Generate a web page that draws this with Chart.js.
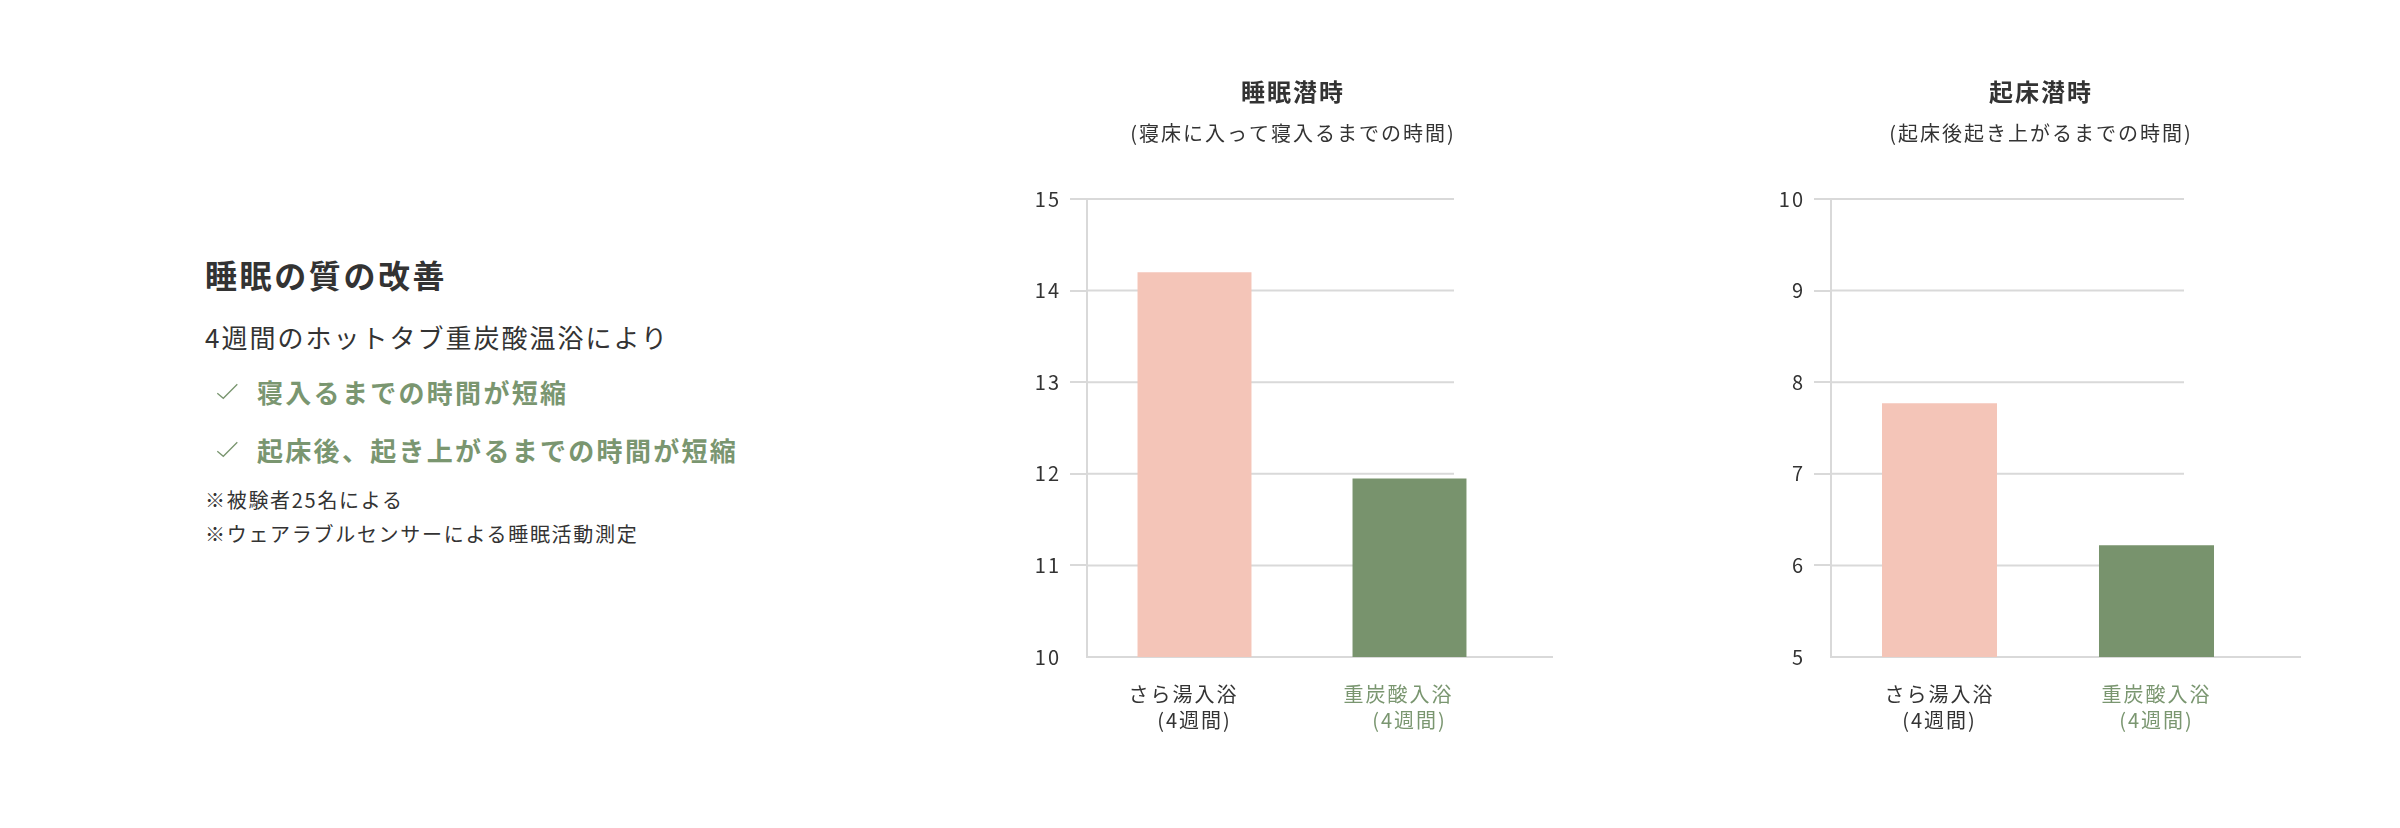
<!DOCTYPE html>
<html lang="ja">
<head>
<meta charset="utf-8">
<title>睡眠の質の改善</title>
<script src="https://cdn.jsdelivr.net/npm/chart.js@4.4.1/dist/chart.umd.min.js"></script>
<style>
  html, body {
    margin: 0;
    padding: 0;
    background: #fff;
  }
  body {
    width: 2400px;
    height: 828px;
    position: relative;
    overflow: hidden;
    font-family: "Noto Sans CJK JP", "Noto Sans", sans-serif;
    color: #333;
  }
  .txt {
    position: absolute;
    left: 205px;
    white-space: nowrap;
  }
  .heading { top: 254px; font-size: 32px; line-height: 40px; font-weight: 700; letter-spacing: 2.6px; }
  .lead { top: 320px; font-size: 26px; line-height: 34px; letter-spacing: 2px; }
  .point { left: 257px; font-size: 26px; line-height: 34px; font-weight: 700; letter-spacing: 2.3px; color: #7a9670; }
  .check { position: absolute; left: 216px; }
  .p1 { top: 375px; }
  .p2 { top: 433px; }
  .c1 { top: 383px; }
  .c2 { top: 441px; }
  .note { font-size: 20px; line-height: 28px; letter-spacing: 1.7px; }
  .n1 { top: 486px; }
  .n2 { top: 520px; }
  canvas { position: absolute; }
</style>
</head>
<body>

<div class="txt heading">睡眠の質の改善</div>
<div class="txt lead">4週間のホットタブ重炭酸温浴により</div>
<svg class="check c1" width="23" height="17"><polyline points="1.3,10.3 7.3,15.3 21.3,1.3" fill="none" stroke="#7a9670" stroke-width="1.3"/></svg>
<div class="txt point p1">寝入るまでの時間が短縮</div>
<svg class="check c2" width="23" height="17"><polyline points="1.3,10.3 7.3,15.3 21.3,1.3" fill="none" stroke="#7a9670" stroke-width="1.3"/></svg>
<div class="txt point p2">起床後、起き上がるまでの時間が短縮</div>
<div class="txt note n1">※被験者25名による</div>
<div class="txt note n2">※ウェアラブルセンサーによる睡眠活動測定</div>

<canvas id="onset_chart" width="586" height="700" style="left:1000px; top:50px;"></canvas>
<canvas id="wake_chart" width="590" height="700" style="left:1744px; top:50px;"></canvas>

<script>
// --- data ---
const onsetLabels = [['さら湯入浴　', '(4週間)'], ['重炭酸入浴　', '(4週間)']];
const wakeLabels = [['さら湯入浴', '(4週間)'], ['重炭酸入浴', '(4週間)']];
const onsetValues = [14.2, 11.95];   // 睡眠潜時
const wakeValues = [7.77, 6.22];     // 起床潜時
const onsetTicks = [10, 11, 12, 13, 14, 15];
const wakeTicks = [5, 6, 7, 8, 9, 10];

const PINK = '#f4c5b8';
const GREEN = '#78936d';
const GREEN_TEXT = '#7a9670';
const GRID = '#d9d9d9';
const TEXT = '#333333';

Chart.defaults.font.family = '"Noto Sans CJK JP", "Noto Sans", sans-serif';
Chart.defaults.color = TEXT;

// short grid lines + x axis line that runs a bit past the bars
const guides = {
    id: 'guides',
    beforeUpdate(chart) { chart.ctx.letterSpacing = '2px'; },
    beforeDraw(chart) { chart.ctx.letterSpacing = '2px'; },
    afterLayout(chart, args, opts) {
        // titles sit a little left of the plot centre
        chart.boxes.forEach(b => {
            if (b.options && typeof b.options.text === 'string') {
                b.left -= opts.titleShift;
                b.right -= opts.titleShift;
            }
        });
    },
    beforeDatasetsDraw(chart, args, opts) {
        const { ctx, chartArea, scales } = chart;
        ctx.save();
        ctx.strokeStyle = GRID;
        ctx.lineWidth = 2;
        scales.y.ticks.forEach(t => {
            const y = scales.y.getPixelForValue(t.value);
            ctx.beginPath();
            ctx.moveTo(chartArea.left, y);
            ctx.lineTo(chartArea.left + opts.gridLength, y);
            ctx.stroke();
        });
        ctx.beginPath();
        ctx.moveTo(chartArea.left - 1, chartArea.bottom);
        ctx.lineTo(chartArea.right + opts.axisExtend, chartArea.bottom);
        ctx.stroke();
        ctx.restore();
    }
};

function makeChart(id, title, subtitle, labels, values, yTicks, gridLength, titleShift) {
    const ctx = document.getElementById(id).getContext('2d');
    return new Chart(ctx, {
        type: 'bar',
        data: {
            labels: labels,
            datasets: [{
                data: values,
                backgroundColor: [PINK, GREEN],
                borderWidth: 0,
                categoryPercentage: 1,
                barPercentage: 0.53
            }]
        },
        options: {
            responsive: false,
            animation: false,
            devicePixelRatio: 1,
            layout: { padding: { left: 0, right: 69, top: 0, bottom: 0 } },
            scales: {
                x: {
                    grid: { display: false },
                    border: { display: false },
                    ticks: {
                        padding: 16,
                        font: { size: 20, lineHeight: 1.3 },
                        color: c => c.index === 1 ? GREEN_TEXT : TEXT
                    },
                    afterFit: s => { s.height = 93; }
                },
                y: {
                    min: yTicks[0],
                    max: yTicks[yTicks.length - 1],
                    ticks: {
                        stepSize: 1,
                        padding: 9,
                        font: { size: 20 },
                        color: TEXT
                    },
                    grid: {
                        display: true,
                        drawOnChartArea: false,
                        drawTicks: true,
                        tickLength: 17,
                        lineWidth: 2,
                        color: c => c.index === 0 ? 'rgba(0,0,0,0)' : GRID
                    },
                    border: { display: true, color: GRID, width: 2 },
                    afterFit: s => { s.width = 87; }
                }
            },
            plugins: {
                legend: { display: false },
                tooltip: { enabled: false },
                title: {
                    display: true,
                    text: title,
                    fullSize: false,
                    color: TEXT,
                    font: { size: 24, weight: 'bold', lineHeight: 1.2 },
                    padding: { top: 27.6, bottom: 14.6 }
                },
                subtitle: {
                    display: true,
                    text: subtitle,
                    fullSize: false,
                    color: TEXT,
                    font: { size: 20, weight: 'normal', lineHeight: 1.2 },
                    padding: { top: 0, bottom: 54 }
                },
                guides: { gridLength: gridLength, axisExtend: 36, titleShift: titleShift }
            }
        },
        plugins: [guides]
    });
}

makeChart('onset_chart', '睡眠潜時', '(寝床に入って寝入るまでの時間)', onsetLabels, onsetValues, onsetTicks, 367, 9);
makeChart('wake_chart', '起床潜時', '(起床後起き上がるまでの時間)', wakeLabels, wakeValues, wakeTicks, 353, 7);
</script>
</body>
</html>
